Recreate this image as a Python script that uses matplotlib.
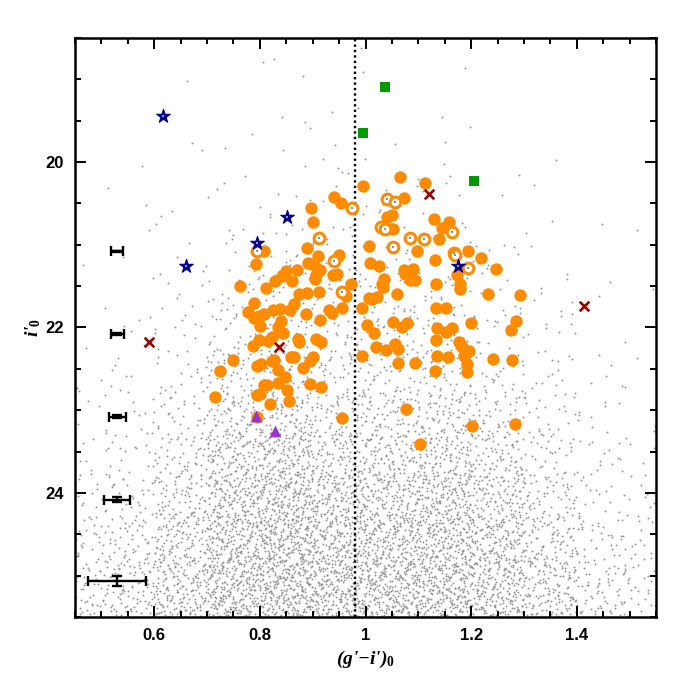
import numpy as np
import matplotlib
matplotlib.use("Agg")
import matplotlib.pyplot as plt
from matplotlib.ticker import MultipleLocator, FuncFormatter

plt.rcParams['mathtext.fontset'] = 'custom'
plt.rcParams['mathtext.rm'] = 'Liberation Serif:bold'
plt.rcParams['mathtext.it'] = 'Liberation Serif:italic:bold'
plt.rcParams['mathtext.bf'] = 'Liberation Serif:bold'

# ---------------- data ----------------
# GC candidates (filled orange circles): colour (g'-i')0 and magnitude i'0
gc_x = [1.066, 1.113, 0.995, 1.073, 0.940, 0.954, 0.897, 0.901, 1.041, 1.050,
        1.130, 1.159, 1.144, 1.052, 1.140, 0.889, 1.007, 1.098, 0.808, 1.195,
        0.911, 0.949, 0.793, 1.132, 0.892, 0.902, 0.913, 1.009, 1.026, 1.219,
        0.849, 0.842, 0.870, 0.938, 0.946, 1.072, 1.075, 1.090, 0.906, 0.905,
        0.860, 0.829, 1.035, 1.085, 1.094, 1.174, 1.248, 0.763, 0.811, 0.973,
        1.032, 1.034, 1.178, 1.179, 1.134, 0.874, 0.890, 0.912, 0.963, 1.006,
        1.012, 1.021, 1.059, 1.231, 1.293, 0.789, 0.864, 0.777, 0.807, 0.798,
        0.789, 0.825, 0.839, 0.858, 0.887, 0.931, 0.936, 0.956, 0.993, 1.134,
        1.152, 0.913, 0.840, 0.834, 0.800, 1.002, 1.052, 1.069, 1.078, 1.199,
        1.285, 1.275, 1.016, 1.135, 1.152, 1.163, 0.843, 0.823, 0.816, 0.798,
        0.873, 0.874, 0.906, 0.915, 0.787, 1.133, 1.177, 1.181, 1.183, 1.196,
        1.055, 1.061, 1.020, 1.038, 0.993, 1.136, 1.156, 1.187, 1.242, 1.278,
        1.192, 1.192, 1.062, 1.094, 1.132, 0.859, 0.865, 0.900, 0.895, 0.827,
        0.823, 0.750, 0.881, 0.802, 0.795, 0.724, 0.834, 0.808, 0.814, 0.834,
        0.848, 0.894, 0.916, 0.851, 0.715, 0.794, 0.801, 0.856, 0.820, 0.956,
        0.795, 1.077, 1.104, 1.201, 1.283]
gc_y = [20.18, 20.25, 20.29, 20.43, 20.42, 20.49, 20.55, 20.72, 20.66, 20.64,
        20.69, 20.73, 20.80, 20.81, 20.93, 21.04, 21.02, 21.08, 21.07, 21.08,
        21.13, 21.12, 21.23, 21.18, 21.22, 21.25, 21.31, 21.22, 21.26, 21.16,
        21.32, 21.38, 21.31, 21.36, 21.35, 21.31, 21.35, 21.29, 21.37, 21.41,
        21.44, 21.44, 21.41, 21.43, 21.42, 21.37, 21.29, 21.50, 21.52, 21.47,
        21.48, 21.51, 21.47, 21.54, 21.47, 21.60, 21.58, 21.57, 21.62, 21.64,
        21.65, 21.63, 21.60, 21.60, 21.61, 21.70, 21.71, 21.81, 21.84, 21.86,
        21.88, 21.79, 21.78, 21.79, 21.84, 21.79, 21.83, 21.77, 21.77, 21.76,
        21.77, 21.91, 21.92, 22.00, 21.98, 21.97, 21.93, 21.99, 21.94, 21.94,
        21.92, 22.03, 22.07, 22.01, 22.06, 22.01, 22.07, 22.12, 22.16, 22.15,
        22.14, 22.18, 22.14, 22.17, 22.22, 22.15, 22.17, 22.21, 22.24, 22.28,
        22.20, 22.26, 22.24, 22.27, 22.35, 22.34, 22.36, 22.35, 22.38, 22.39,
        22.44, 22.54, 22.43, 22.43, 22.53, 22.36, 22.36, 22.36, 22.40, 22.39,
        22.40, 22.39, 22.49, 22.44, 22.47, 22.52, 22.51, 22.69, 22.69, 22.67,
        22.60, 22.68, 22.72, 22.76, 22.84, 22.82, 22.80, 22.89, 22.93, 23.10,
        23.08, 22.99, 23.41, 23.19, 23.17]

# open orange circles
open_x = [0.974, 1.041, 1.055, 1.029, 1.037, 0.912, 1.085, 1.111, 1.164, 1.053,
          0.794, 0.941, 1.167, 1.170, 1.194, 0.955]
open_y = [20.56, 20.45, 20.48, 20.79, 20.81, 20.92, 20.92, 20.93, 20.84, 21.03,
          21.08, 21.19, 21.10, 21.12, 21.28, 21.57]

# green squares
sq_x = [1.037, 0.995, 1.205]
sq_y = [19.09, 19.65, 20.23]

# dark-blue stars
star_x = [0.617, 0.852, 0.795, 0.661, 1.176]
star_y = [19.44, 20.67, 20.98, 21.26, 21.26]

# dark-red crosses
cross_x = [0.590, 0.837, 1.121, 1.414]
cross_y = [22.18, 22.23, 20.39, 21.74]

# purple triangles
tri_x = [0.792, 0.829]
tri_y = [23.07, 23.25]

# photometric error bars
err_x = [0.530, 0.530, 0.530, 0.530, 0.530]
err_y = [21.08, 22.08, 23.08, 24.08, 25.07]
err_dx = [0.011, 0.012, 0.016, 0.025, 0.055]
err_dy = [0.01, 0.015, 0.02, 0.03, 0.06]

# colour dividing line
split_colour = 0.98

# background point-source field: counts per cell (0.1 mag colour x 0.5 mag)
bg_xc = [0.5, 0.6, 0.7, 0.8, 0.9, 1.0, 1.1, 1.2, 1.3, 1.4, 1.5]
bg_yc = [18.75, 19.25, 19.75, 20.25, 20.75, 21.25, 21.75, 22.25, 22.75,
         23.25, 23.75, 24.25, 24.75, 25.25]
bg_counts = [
    [0, 0, 0, 1, 1, 1, 0, 0, 0, 0, 0],
    [0, 0, 1, 1, 2, 2, 1, 0, 0, 0, 0],
    [0, 1, 1, 2, 3, 2, 2, 1, 1, 0, 0],
    [0, 1, 2, 4, 5, 5, 4, 2, 1, 1, 0],
    [1, 2, 4, 8, 9, 9, 8, 5, 3, 1, 0],
    [1, 3, 7, 14, 15, 14, 14, 10, 5, 2, 1],
    [2, 4, 12, 26, 26, 20, 24, 18, 9, 4, 1],
    [4, 7, 20, 46, 40, 30, 38, 30, 15, 6, 2],
    [6, 11, 32, 72, 60, 42, 58, 46, 22, 9, 4],
    [9, 18, 55, 130, 95, 60, 90, 78, 36, 14, 6],
    [15, 30, 85, 175, 140, 92, 132, 118, 56, 22, 9],
    [27, 50, 120, 200, 180, 130, 170, 155, 88, 38, 15],
    [42, 70, 150, 210, 200, 160, 195, 175, 120, 58, 22],
    [60, 95, 175, 210, 200, 185, 195, 185, 140, 78, 33],
]


def radical_inverse(n, base):
    f, r = 1.0, 0.0
    while n > 0:
        f /= base
        r += f * (n % base)
        n //= base
    return r


XMIN, XMAX, YMIN, YMAX = 0.45, 1.55, 18.5, 25.5

# ---------------- figure ----------------
fig = plt.figure(figsize=(6.92, 6.92), dpi=100)
ax = fig.add_axes([75 / 692, 75 / 692, 581 / 692, 579 / 692])

# background field: each cell's count laid out evenly (Halton layout) over a
# footprint twice the cell size, so neighbouring cells blend smoothly
dx, dy = 0.1, 0.5
spread = 2.0
bx, by = [], []
idx = 0
for r, yc in enumerate(bg_yc):
    for c, xc in enumerate(bg_xc):
        n = bg_counts[r][c]
        a = (idx * 0.6180339887) % 1.0
        b = (idx * 0.4142135624) % 1.0
        start = 1 + idx * 37
        for k in range(n):
            u = (radical_inverse(start + k, 2) + a) % 1.0
            v = (radical_inverse(start + k, 3) + b) % 1.0
            px = xc + (u - 0.5) * dx * spread
            py = yc + (v - 0.5) * dy * spread
            if px < XMIN:
                px = 2 * XMIN - px
            if px > XMAX:
                px = 2 * XMAX - px
            if py < YMIN:
                py = 2 * YMIN - py
            if py > YMAX:
                py = 2 * YMAX - py
            bx.append(px)
            by.append(py)
        idx += 1
ax.scatter(bx, by, s=1.9, marker='o', color='#939393', linewidths=0, zorder=1)

ax.axvline(split_colour, color='black', lw=1.7, linestyle=(0, (1.0, 1.3)), zorder=2)

ax.scatter(gc_x, gc_y, s=80, color='#ff8c00', linewidths=0, zorder=3)
ax.scatter(open_x, open_y, s=60, facecolors='white', edgecolors='#ff8c00',
           linewidths=2.2, zorder=3)
ax.scatter(open_x, open_y, s=1.6, marker='s', color='#8f8f8f', linewidths=0, zorder=4)
ax.scatter(sq_x, sq_y, s=52, marker='s', color='#009a00', linewidths=0, zorder=3)
ax.scatter(star_x, star_y, s=105, marker='*', color='#00008f', linewidths=0.8,
           edgecolors='#00008f', zorder=3)
ax.scatter(star_x, star_y, s=1.6, marker='s', color='#9a9a9a', linewidths=0, zorder=4)
ax.scatter(cross_x, cross_y, s=48, marker='x', color='#990000', linewidths=1.9, zorder=3)
ax.scatter(tri_x, tri_y, s=72, marker='^', color='#9933cc', linewidths=0, zorder=4)

ax.errorbar(err_x, err_y, xerr=err_dx, yerr=err_dy, fmt='none', ecolor='black',
            elinewidth=1.7, capsize=3.5, capthick=1.7, zorder=5)

ax.set_xlim(XMIN, XMAX)
ax.set_ylim(YMAX, YMIN)

ax.xaxis.set_major_locator(MultipleLocator(0.2))
ax.xaxis.set_minor_locator(MultipleLocator(0.05))
ax.yaxis.set_major_locator(MultipleLocator(2))
ax.yaxis.set_minor_locator(MultipleLocator(0.5))
ax.xaxis.set_major_formatter(FuncFormatter(lambda v, p: '%g' % round(v, 2)))
ax.yaxis.set_major_formatter(FuncFormatter(lambda v, p: '%g' % round(v, 2)))

ax.tick_params(which='both', direction='in', top=True, right=True, width=1.4,
               colors='black')
ax.tick_params(which='major', length=8, pad=8)
ax.tick_params(which='minor', length=4)
for lab in ax.get_xticklabels() + ax.get_yticklabels():
    lab.set_fontfamily('Liberation Sans')
    lab.set_fontweight('bold')
    lab.set_fontsize(12)
for sp in ax.spines.values():
    sp.set_linewidth(1.8)

ax.set_xlabel("(g'\u2212i')$_0$", fontsize=14, labelpad=4,
              family='Liberation Serif', weight='bold', style='italic')
ax.set_ylabel("i'$_0$", fontsize=14, labelpad=2,
              family='Liberation Serif', weight='bold', style='italic')

fig.savefig('out.png', dpi=100, facecolor='white')
